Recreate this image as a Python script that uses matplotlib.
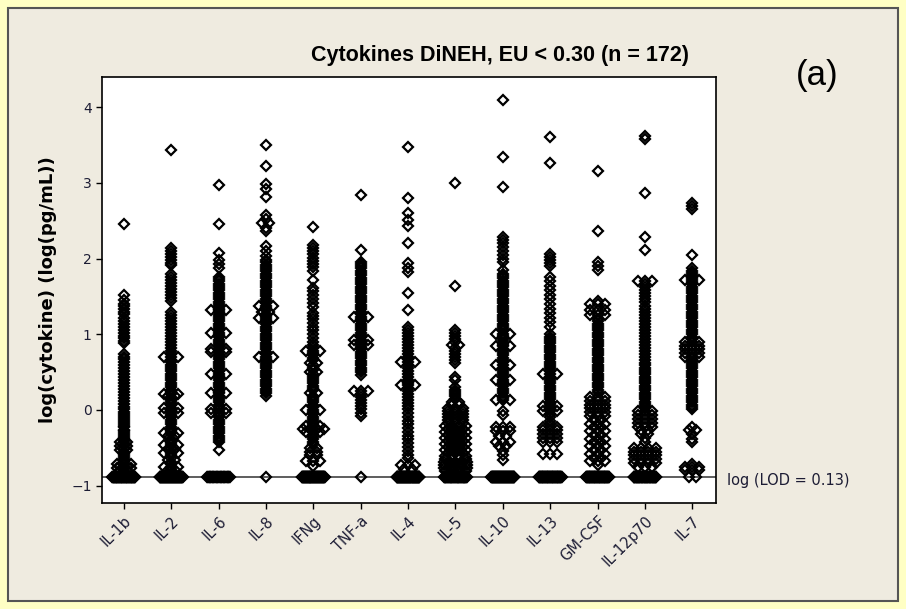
import matplotlib
matplotlib.use("Agg")
import matplotlib.pyplot as plt
from matplotlib.patches import Rectangle
import numpy as np

# cytokine names along the x axis
cytokines = ['IL-1b', 'IL-2', 'IL-6', 'IL-8', 'IFNg', 'TNF-a', 'IL-4', 'IL-5',
             'IL-10', 'IL-13', 'GM-CSF', 'IL-12p70', 'IL-7']

LOD = 0.13  # pg/mL, values below are plotted at log(LOD)

# values above LOD, log(pg/mL)
il1b = [2.46, 1.52, 1.45, 1.40, 1.37, 1.34, 1.30, 1.27, 1.22, 1.18, 1.14, 1.10, 1.06, 1.02, 0.98, 0.95, 0.91, 0.88,
        0.74, 0.70, 0.67, 0.63, 0.59, 0.55, 0.51, 0.47, 0.44, 0.40, 0.36, 0.32, 0.28, 0.24, 0.20, 0.16, 0.12, 0.08,
        0.04, 0.01, -0.03, -0.06, -0.08, -0.11, -0.13, -0.16, -0.18, -0.21, -0.23, -0.26, -0.28, -0.31, -0.33, -0.36,
        -0.38, -0.41, -0.43, -0.43, -0.46, -0.48, -0.48, -0.51, -0.53, -0.53, -0.56, -0.58, -0.61, -0.63, -0.66, -0.68,
        -0.71, -0.71, -0.71, -0.74, -0.74, -0.77, -0.77, -0.77, -0.80, -0.80, -0.82]
il2 = [3.43, 2.14, 2.10, 2.06, 2.02, 1.98, 1.94, 1.91, 1.80, 1.76, 1.72, 1.68, 1.64, 1.60, 1.56, 1.52, 1.48, 1.44,
       1.30, 1.26, 1.22, 1.18, 1.14, 1.10, 1.06, 1.02, 0.98, 0.94, 0.90, 0.86, 0.82, 0.78, 0.74, 0.70, 0.70, 0.70,
       0.66, 0.63, 0.60, 0.57, 0.54, 0.51, 0.48, 0.45, 0.42, 0.39, 0.36, 0.33, 0.30, 0.27, 0.24, 0.21, 0.21, 0.21,
       0.18, 0.18, 0.15, 0.12, 0.09, 0.06, 0.02, 0.02, 0.02, -0.01, -0.04, -0.04, -0.04, -0.07, -0.10, -0.13, -0.16,
       -0.19, -0.22, -0.25, -0.28, -0.31, -0.31, -0.31, -0.35, -0.35, -0.38, -0.41, -0.44, -0.47, -0.47, -0.47,
       -0.50, -0.52, -0.52, -0.55, -0.57, -0.57, -0.57, -0.60, -0.63, -0.66, -0.66, -0.69, -0.72, -0.75, -0.75,
       -0.75, -0.78, -0.80, -0.80]
il6 = [2.97, 2.46, 2.07, 1.98, 1.93, 1.88, 1.76, 1.73, 1.70, 1.67, 1.64, 1.61, 1.58, 1.55, 1.52, 1.49, 1.46, 1.43,
       1.40, 1.37, 1.34, 1.32, 1.32, 1.32, 1.29, 1.26, 1.23, 1.20, 1.17, 1.14, 1.11, 1.08, 1.05, 1.02, 1.02, 1.02,
       0.99, 0.96, 0.93, 0.90, 0.87, 0.84, 0.80, 0.80, 0.80, 0.76, 0.76, 0.76, 0.73, 0.70, 0.67, 0.64, 0.61, 0.58,
       0.55, 0.52, 0.48, 0.48, 0.48, 0.45, 0.42, 0.39, 0.36, 0.33, 0.30, 0.27, 0.24, 0.22, 0.22, 0.22, 0.19, 0.16,
       0.13, 0.10, 0.07, 0.04, 0.01, 0.01, 0.01, -0.04, -0.04, -0.04, -0.07, -0.10, -0.13, -0.16, -0.19, -0.22,
       -0.25, -0.28, -0.31, -0.34, -0.37, -0.40, -0.43, -0.53]
il8 = [3.50, 3.22, 2.98, 2.92, 2.82, 2.58, 2.52, 2.47, 2.47, 2.41, 2.36, 2.16, 2.10, 2.04, 1.98, 1.95, 1.92, 1.89,
       1.86, 1.83, 1.80, 1.77, 1.74, 1.71, 1.68, 1.65, 1.62, 1.59, 1.56, 1.53, 1.50, 1.47, 1.44, 1.41, 1.38, 1.38,
       1.38, 1.35, 1.32, 1.30, 1.30, 1.27, 1.24, 1.22, 1.22, 1.22, 1.19, 1.16, 1.13, 1.10, 1.07, 1.04, 1.01, 0.98,
       0.95, 0.92, 0.89, 0.86, 0.83, 0.80, 0.77, 0.74, 0.70, 0.70, 0.70, 0.67, 0.64, 0.61, 0.58, 0.55, 0.52, 0.49,
       0.46, 0.43, 0.40, 0.37, 0.34, 0.31, 0.28, 0.25, 0.22, 0.18]
ifng = [2.42, 2.18, 2.14, 2.10, 2.06, 2.01, 1.97, 1.93, 1.89, 1.83, 1.72, 1.61, 1.57, 1.52, 1.46, 1.41, 1.36, 1.28,
        1.24, 1.20, 1.15, 1.10, 1.05, 1.00, 0.95, 0.90, 0.86, 0.82, 0.78, 0.78, 0.78, 0.75, 0.72, 0.69, 0.66, 0.62,
        0.62, 0.59, 0.56, 0.53, 0.50, 0.50, 0.47, 0.44, 0.41, 0.38, 0.35, 0.32, 0.29, 0.26, 0.22, 0.22, 0.19, 0.16,
        0.13, 0.10, 0.07, 0.04, 0.00, 0.00, 0.00, -0.03, -0.06, -0.09, -0.12, -0.15, -0.18, -0.21, -0.21, -0.21,
        -0.25, -0.25, -0.25, -0.25, -0.29, -0.29, -0.29, -0.33, -0.36, -0.39, -0.42, -0.45, -0.50, -0.50, -0.55,
        -0.55, -0.60, -0.60, -0.67, -0.67, -0.67, -0.74]
tnfa = [2.84, 2.11, 1.96, 1.93, 1.90, 1.87, 1.84, 1.81, 1.78, 1.75, 1.72, 1.69, 1.66, 1.63, 1.60, 1.57, 1.54, 1.51,
        1.48, 1.45, 1.42, 1.39, 1.36, 1.33, 1.30, 1.27, 1.23, 1.23, 1.23, 1.20, 1.17, 1.14, 1.11, 1.08, 1.05, 1.02,
        0.99, 0.96, 0.92, 0.92, 0.92, 0.89, 0.86, 0.86, 0.86, 0.83, 0.80, 0.77, 0.74, 0.71, 0.68, 0.65, 0.62, 0.59,
        0.56, 0.53, 0.50, 0.46, 0.25, 0.25, 0.25, 0.21, 0.17, 0.13, 0.09, 0.05, 0.01, -0.04, -0.08]
il4 = [3.48, 2.80, 2.60, 2.51, 2.43, 2.21, 1.94, 1.88, 1.82, 1.54, 1.32, 1.10, 1.06, 1.02, 0.98, 0.94, 0.90, 0.86,
       0.82, 0.78, 0.74, 0.70, 0.67, 0.64, 0.64, 0.64, 0.60, 0.56, 0.52, 0.48, 0.44, 0.40, 0.36, 0.33, 0.33, 0.33,
       0.29, 0.25, 0.21, 0.17, 0.13, 0.09, 0.05, 0.01, -0.04, -0.09, -0.14, -0.19, -0.24, -0.29, -0.34, -0.39,
       -0.44, -0.49, -0.54, -0.59, -0.64, -0.73, -0.73, -0.73, -0.78, -0.78]
il5 = [3.00, 1.64, 1.06, 1.02, 0.98, 0.94, 0.90, 0.86, 0.86, 0.82, 0.78, 0.74, 0.70, 0.66, 0.62, 0.44, 0.40, 0.30,
       0.27, 0.24, 0.21, 0.18, 0.15, 0.11, 0.11, 0.07, 0.07, 0.03, 0.03, 0.03, -0.01, -0.01, -0.01, -0.05, -0.05,
       -0.05, -0.09, -0.09, -0.09, -0.13, -0.13, -0.13, -0.17, -0.17, -0.17, -0.21, -0.21, -0.21, -0.21, -0.25,
       -0.25, -0.25, -0.29, -0.29, -0.29, -0.29, -0.33, -0.33, -0.33, -0.37, -0.37, -0.37, -0.37, -0.41, -0.41,
       -0.41, -0.45, -0.45, -0.45, -0.45, -0.49, -0.49, -0.49, -0.53, -0.53, -0.53, -0.53, -0.57, -0.57, -0.57,
       -0.61, -0.61, -0.61, -0.61, -0.65, -0.65, -0.65, -0.65, -0.69, -0.69, -0.69, -0.69, -0.69, -0.73, -0.73,
       -0.73, -0.73, -0.73, -0.77, -0.77, -0.77, -0.77, -0.77, -0.81, -0.81, -0.81, -0.81]
il10 = [4.10, 3.34, 2.94, 2.28, 2.24, 2.20, 2.15, 2.10, 2.05, 2.00, 1.96, 1.85, 1.80, 1.77, 1.74, 1.71, 1.68, 1.65,
        1.62, 1.59, 1.56, 1.53, 1.50, 1.47, 1.44, 1.41, 1.38, 1.35, 1.32, 1.29, 1.26, 1.23, 1.20, 1.17, 1.14, 1.11,
        1.08, 1.05, 1.01, 1.01, 1.01, 0.98, 0.95, 0.92, 0.89, 0.86, 0.84, 0.84, 0.84, 0.81, 0.78, 0.75, 0.72, 0.69,
        0.66, 0.63, 0.59, 0.59, 0.59, 0.56, 0.53, 0.50, 0.47, 0.44, 0.40, 0.40, 0.40, 0.37, 0.34, 0.31, 0.28, 0.25,
        0.22, 0.19, 0.16, 0.13, 0.13, 0.13, -0.02, -0.07, -0.22, -0.22, -0.22, -0.28, -0.28, -0.28, -0.34, -0.34,
        -0.42, -0.42, -0.42, -0.48, -0.48, -0.54, -0.60, -0.66]
il13 = [3.61, 3.26, 2.06, 2.02, 1.98, 1.94, 1.90, 1.76, 1.70, 1.64, 1.58, 1.52, 1.46, 1.40, 1.34, 1.28, 1.22, 1.16,
        1.10, 1.00, 0.97, 0.94, 0.91, 0.88, 0.85, 0.82, 0.79, 0.76, 0.73, 0.70, 0.67, 0.64, 0.61, 0.58, 0.55, 0.52,
        0.48, 0.48, 0.48, 0.44, 0.41, 0.38, 0.35, 0.32, 0.29, 0.26, 0.23, 0.20, 0.17, 0.14, 0.11, 0.08, 0.05, 0.05,
        0.05, 0.01, -0.02, -0.02, -0.02, -0.06, -0.10, -0.14, -0.18, -0.22, -0.22, -0.22, -0.27, -0.27, -0.27,
        -0.32, -0.32, -0.32, -0.37, -0.37, -0.37, -0.42, -0.42, -0.42, -0.58, -0.58, -0.58]
gmcsf = [3.16, 2.36, 1.96, 1.90, 1.85, 1.44, 1.40, 1.40, 1.40, 1.32, 1.32, 1.32, 1.26, 1.26, 1.26, 1.20, 1.17, 1.14,
         1.11, 1.08, 1.05, 1.02, 0.99, 0.96, 0.93, 0.90, 0.87, 0.84, 0.81, 0.78, 0.75, 0.72, 0.69, 0.66, 0.63, 0.60,
         0.57, 0.54, 0.51, 0.48, 0.45, 0.42, 0.39, 0.36, 0.33, 0.30, 0.27, 0.24, 0.17, 0.17, 0.17, 0.12, 0.12, 0.12,
         0.07, 0.07, 0.07, 0.02, 0.02, 0.02, -0.03, -0.03, -0.03, -0.08, -0.08, -0.08, -0.13, -0.13, -0.18, -0.18,
         -0.18, -0.23, -0.23, -0.28, -0.28, -0.28, -0.33, -0.33, -0.38, -0.38, -0.38, -0.43, -0.43, -0.48, -0.48,
         -0.48, -0.53, -0.53, -0.58, -0.58, -0.58, -0.63, -0.63, -0.68, -0.68, -0.68, -0.73]
il12p70 = [3.62, 3.58, 2.87, 2.29, 2.11, 1.70, 1.70, 1.70, 1.66, 1.62, 1.58, 1.54, 1.50, 1.46, 1.42, 1.38, 1.34, 1.30,
           1.26, 1.22, 1.18, 1.14, 1.10, 1.06, 1.02, 0.98, 0.94, 0.90, 0.86, 0.82, 0.78, 0.74, 0.70, 0.66, 0.62,
           0.59, 0.56, 0.53, 0.50, 0.47, 0.44, 0.41, 0.38, 0.35, 0.32, 0.29, 0.26, 0.23, 0.20, 0.17, 0.14, 0.11,
           0.08, 0.05, 0.02, -0.02, -0.02, -0.02, -0.07, -0.07, -0.07, -0.12, -0.12, -0.12, -0.17, -0.17, -0.17,
           -0.22, -0.22, -0.22, -0.27, -0.27, -0.32, -0.32, -0.37, -0.42, -0.50, -0.50, -0.50, -0.50, -0.55, -0.55,
           -0.55, -0.55, -0.60, -0.60, -0.60, -0.60, -0.65, -0.65, -0.65, -0.65, -0.70, -0.70, -0.70, -0.70, -0.75,
           -0.75, -0.75]
il7 = [2.74, 2.70, 2.66, 2.05, 1.87, 1.84, 1.81, 1.78, 1.75, 1.72, 1.72, 1.72, 1.69, 1.66, 1.63, 1.60, 1.57, 1.54,
       1.51, 1.48, 1.45, 1.42, 1.39, 1.36, 1.33, 1.30, 1.27, 1.24, 1.21, 1.18, 1.15, 1.12, 1.09, 1.06, 1.03, 1.00,
       0.97, 0.94, 0.90, 0.90, 0.90, 0.85, 0.85, 0.85, 0.80, 0.80, 0.80, 0.75, 0.75, 0.75, 0.70, 0.70, 0.70, 0.67,
       0.64, 0.61, 0.58, 0.55, 0.52, 0.49, 0.46, 0.43, 0.40, 0.37, 0.34, 0.31, 0.28, 0.25, 0.22, 0.19, 0.16, 0.13,
       0.10, 0.07, 0.04, 0.01, -0.22, -0.27, -0.27, -0.32, -0.38, -0.42, -0.72, -0.76, -0.76, -0.76, -0.80, -0.80,
       -0.80]

# how many samples sit at the LOD for each cytokine
lod_counts = [60, 70, 30, 1, 70, 1, 80, 50, 70, 60, 60, 55, 2]

series = [il1b, il2, il6, il8, ifng, tnfa, il4, il5, il10, il13, gmcsf, il12p70, il7]

lod_log = np.log10(LOD)
yellow = '#FFFFC4'
beige = '#EFEBE0'
txt = '#1c1c34'

fig = plt.figure(figsize=(9.06, 6.09), dpi=100)
fig.patch.set_facecolor(yellow)
fig.add_artist(Rectangle((8 / 906, 8 / 609), 890 / 906, 593 / 609, transform=fig.transFigure,
                         facecolor=beige, edgecolor='#555555', lw=1.5, zorder=0))

ax = fig.add_axes([102 / 906, 1 - 503 / 609, 614 / 906, 426 / 609])
ax.set_facecolor('white')

ax.axhline(lod_log, color='#505050', lw=1.3, zorder=1)

for i, vals in enumerate(series):
    allv = np.array(vals + [round(lod_log, 3)] * lod_counts[i])
    uniq, cnt = np.unique(allv, return_counts=True)
    xs, ys = [], []
    for u, n in zip(uniq, cnt):
        # spread tied values side by side, like Minitab does
        w = min(0.075 * (n - 1), 0.24)
        off = np.linspace(-w, w, n) if n > 1 else np.array([0.0])
        xs.extend(i + 1 + off)
        ys.extend([u] * n)
    ax.plot(xs, ys, 'D', ms=4.8, mfc='none', mec='black', mew=1.6, ls='none', zorder=3)

ax.set_xlim(0.54, 13.5)
ax.set_ylim(-1.23, 4.40)
ax.set_yticks([-1, 0, 1, 2, 3, 4])
ax.set_xticks(range(1, len(cytokines) + 1))
ax.set_xticklabels(cytokines, rotation=45, ha='right', rotation_mode='anchor', fontsize=10.5, color=txt)
ax.tick_params(axis='y', labelsize=10, labelcolor=txt)
ax.tick_params(direction='out', length=4, width=1)
for s in ax.spines.values():
    s.set_linewidth(1.2)

ax.set_ylabel('log(cytokine) (log(pg/mL))', fontsize=13, fontweight='bold', labelpad=10)

fig.text(0.552, 1 - 55 / 609, 'Cytokines DiNEH, EU < 0.30 (n = 172)', ha='center', va='center',
         fontsize=15.5, fontweight='bold',
         family=['Liberation Sans Narrow', 'DejaVu Sans Condensed', 'Liberation Sans'])
fig.text(817 / 906, 1 - 75 / 609, '(a)', ha='center', va='center', fontsize=25,
         family=['Liberation Sans', 'DejaVu Sans'])
fig.text(727 / 906, 1 - 480 / 609, 'log (LOD = 0.13)', ha='left', va='center', fontsize=10.5, color=txt)

fig.savefig('out.png', dpi=100, facecolor=fig.get_facecolor())
